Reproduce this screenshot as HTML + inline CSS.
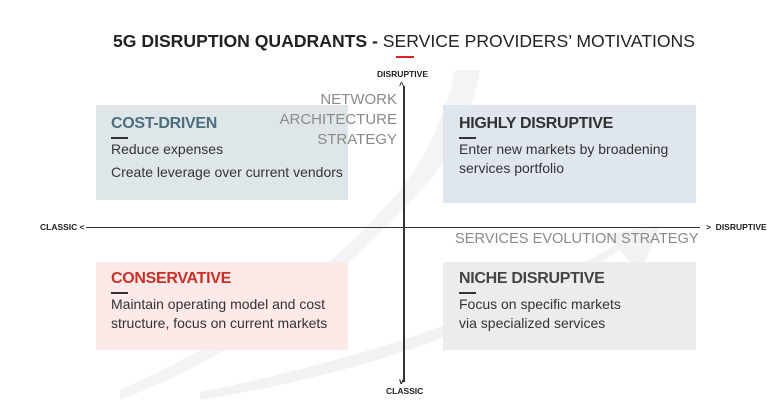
<!DOCTYPE html>
<html><head><style>
body{margin:0;width:780px;height:404px;background:#fff;position:relative;overflow:hidden;font-family:"Liberation Sans",sans-serif}
.a{position:absolute;white-space:nowrap}
.box{position:absolute}
.h{font-weight:bold;font-size:16px;letter-spacing:-0.3px}
.t{font-size:14px;color:#333;line-height:19px}
.dash{position:absolute;width:17px;height:2px;background:#333}
.sm{font-size:8.5px;font-weight:bold;color:#222}
</style></head><body>
<svg class="a" style="left:0;top:0" width="780" height="404">
<path d="M120 400 Q300 330 430 180 Q470 130 480 70 L455 70 Q440 140 400 190 Q300 310 120 390Z" fill="#f3f4f6"/>
<path d="M200 400 Q450 360 620 250 L640 275 L660 225 L605 235 L615 245 Q460 340 200 392Z" fill="#f1f2f4"/>
</svg>
<div class="box" style="left:96px;top:105px;width:252px;height:95px;background:#dfe6ea"></div>
<div class="box" style="left:443px;top:105px;width:253px;height:98px;background:#e0e6ee"></div>
<div class="box" style="left:96px;top:262px;width:252px;height:88px;background:#fde9e7"></div>
<div class="box" style="left:443px;top:262px;width:253px;height:88px;background:#ececec"></div>
<div class="a" style="left:113px;top:31px;font-size:17.6px;color:#222"><b>5G DISRUPTION QUADRANTS -</b> SERVICE PROVIDERS’ MOTIVATIONS</div>
<div class="a" style="left:396px;top:56px;width:18px;height:2px;background:#d22"></div>
<div class="a" style="left:403px;top:86px;width:1.5px;height:296px;background:#333"></div>
<div class="a" style="left:86px;top:226.5px;width:614px;height:1.5px;background:#333"></div>
<div class="a sm" style="left:377px;top:69px">DISRUPTIVE</div>
<div class="a sm" style="left:399px;top:80px">^</div>
<div class="a sm" style="left:399px;top:376px">v</div>
<div class="a sm" style="left:386px;top:386px">CLASSIC</div>
<div class="a sm" style="left:40px;top:222px">CLASSIC &lt;</div>
<div class="a sm" style="left:706px;top:222px">&gt;&nbsp; DISRUPTIVE</div>
<div class="a" style="right:383px;top:90px;text-align:right;font-size:15px;line-height:20px;color:#8a8a8a">NETWORK<br>ARCHITECTURE<br>STRATEGY</div>
<div class="a" style="left:455px;top:231px;font-size:14.6px;color:#8a8a8a">SERVICES EVOLUTION STRATEGY</div>
<div class="a h" style="left:111px;top:115px;color:#4d6e7c">COST-DRIVEN</div>
<div class="dash" style="left:111px;top:137px"></div>
<div class="a t" style="left:111px;top:140px">Reduce expenses</div>
<div class="a t" style="left:111px;top:163px">Create leverage over current vendors</div>
<div class="a h" style="left:459px;top:115px;color:#333">HIGHLY DISRUPTIVE</div>
<div class="dash" style="left:459px;top:137px"></div>
<div class="a t" style="left:459px;top:140px">Enter new markets by broadening<br>services portfolio</div>
<div class="a h" style="left:111px;top:270px;color:#c8302a">CONSERVATIVE</div>
<div class="dash" style="left:111px;top:292px"></div>
<div class="a t" style="left:111px;top:295px">Maintain operating model and cost<br>structure, focus on current markets</div>
<div class="a h" style="left:459px;top:270px;color:#444">NICHE DISRUPTIVE</div>
<div class="dash" style="left:459px;top:292px"></div>
<div class="a t" style="left:459px;top:295px">Focus on specific markets<br>via specialized services</div>
</body></html>
